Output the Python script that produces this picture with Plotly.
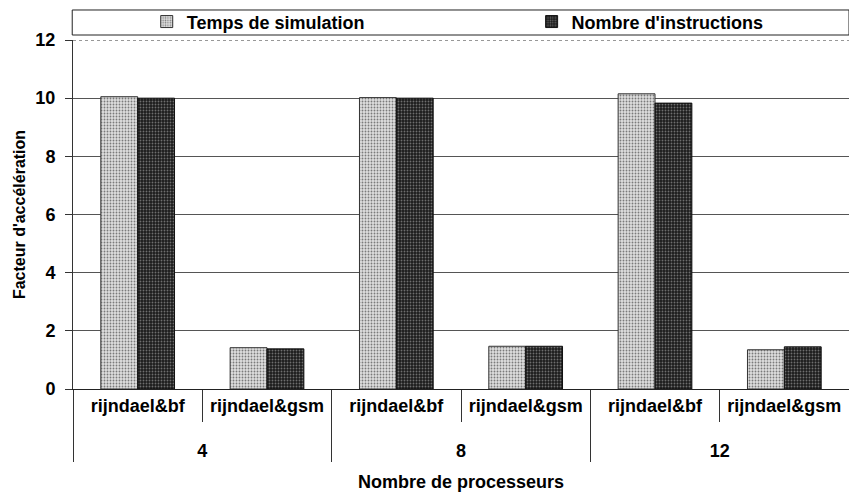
import plotly.graph_objects as go

# Speed-up factor by processor count and application pair
processors = ["4", "4", "8", "8", "12", "12"]
apps = ["rijndael&bf", "rijndael&gsm", "rijndael&bf", "rijndael&gsm", "rijndael&bf", "rijndael&gsm"]
temps_simulation = [10.05, 1.42, 10.02, 1.47, 10.15, 1.35]
nombre_instructions = [10.0, 1.38, 10.0, 1.47, 9.83, 1.45]

FONT = "Liberation Sans, Arial, sans-serif"
BOLD18 = dict(family=FONT, size=18, color="black", weight="bold")

# group labels sit one line lower, below the application names
group_labels = ["<br>" + p for p in processors]

fig = go.Figure()
fig.add_trace(go.Bar(
    x=[group_labels, apps], y=temps_simulation, name="Temps de simulation",
    legend="legend",
    marker=dict(color="#c4c4c4", line=dict(color="#333333", width=1),
                pattern=dict(shape=".", fgcolor="#7a7a7a", bgcolor="#dedede",
                             size=3, solidity=0.3, fillmode="replace")),
))
fig.add_trace(go.Bar(
    x=[group_labels, apps], y=nombre_instructions, name="Nombre d'instructions",
    legend="legend2",
    marker=dict(color="#222222", line=dict(color="#111111", width=1),
                pattern=dict(shape=".", fgcolor="#6e6e6e", bgcolor="#1c1c1c",
                             size=3, solidity=0.3, fillmode="replace")),
))

legend_common = dict(orientation="h", y=1.052, yanchor="middle", xanchor="left",
                     bgcolor="rgba(0,0,0,0)", borderwidth=0, font=BOLD18,
                     itemclick=False, itemdoubleclick=False)

fig.update_layout(
    width=849, height=495,
    margin=dict(l=73, r=0, t=40, b=106),
    paper_bgcolor="white", plot_bgcolor="white",
    font=BOLD18,
    barmode="group", bargap=0.43, bargroupgap=0,
    showlegend=True,
    legend=dict(x=0.095, **legend_common),
    legend2=dict(x=0.591, **legend_common),
    shapes=[
        # legend frame
        dict(type="rect", xref="paper", yref="paper", x0=-0.001, x1=1.0,
             y0=1.0143, y1=1.086, line=dict(color="#222222", width=1)),
        # dotted top border of the plot area
        dict(type="line", xref="paper", yref="y", x0=0, x1=1, y0=12, y1=12,
             line=dict(color="white", width=2), layer="above"),
        dict(type="line", xref="paper", yref="y", x0=0, x1=1, y0=12, y1=12,
             line=dict(color="#333333", width=1, dash="dot"), layer="above"),
    ],
)

fig.update_yaxes(
    range=[0, 12], dtick=2, tick0=0,
    showgrid=True, gridcolor="#555555", gridwidth=1,
    showline=True, linecolor="#333333", linewidth=1,
    ticks="outside", ticklen=7, tickcolor="#333333", ticklabelstandoff=6,
    tickfont=BOLD18,
    title=dict(text="Facteur d'accélération", standoff=5,
               font=dict(family=FONT, size=16, color="black", weight="bold")),
    zeroline=False,
)
fig.update_xaxes(
    type="multicategory",
    showline=True, linecolor="#222222", linewidth=1,
    ticks="outside", tickson="boundaries", ticklen=32, tickcolor="#333333",
    showdividers=True, dividercolor="#333333", dividerwidth=1,
    tickfont=BOLD18,
    title=dict(text="Nombre de processeurs", font=BOLD18),
)

fig.write_html("out.html")
